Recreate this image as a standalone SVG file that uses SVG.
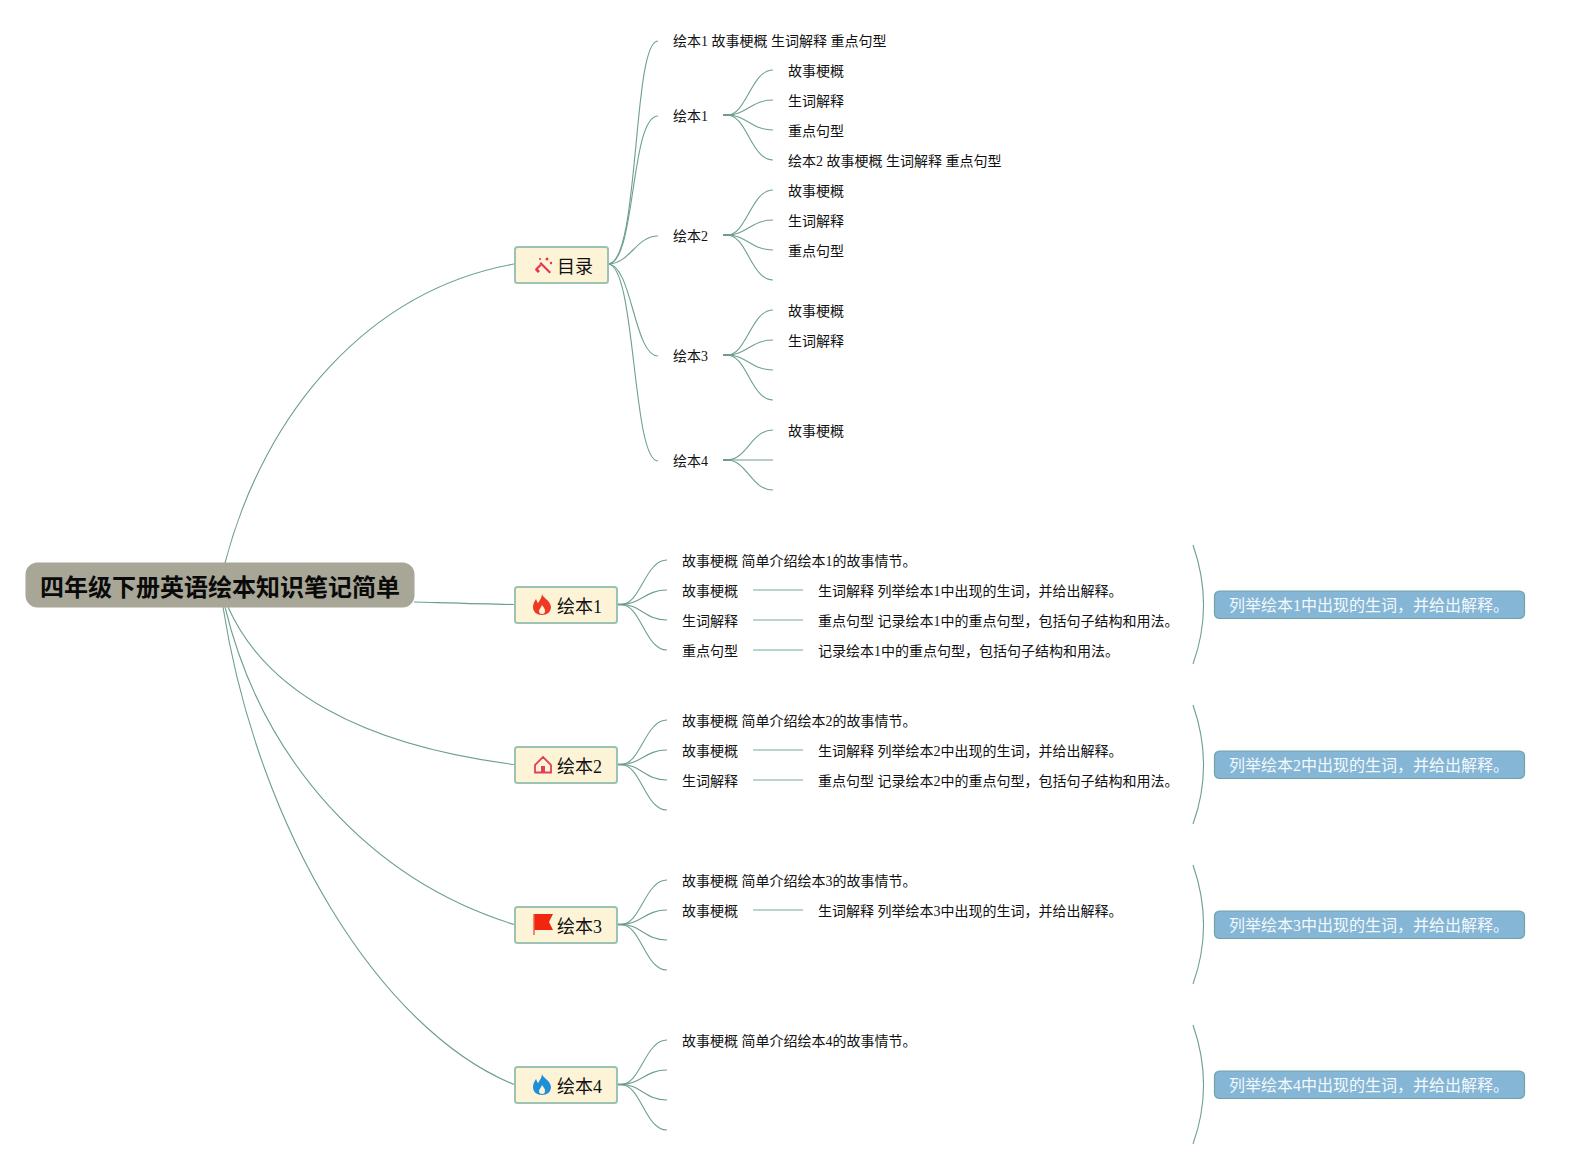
<svg xmlns="http://www.w3.org/2000/svg" width="1570" height="1170" viewBox="0 0 1570 1170">
<defs>
<style>
text{font-family:"Liberation Serif","Noto Sans CJK SC",serif;fill:#111}
.t{font-size:14px}
.n{font-size:18px}
.r{font-size:24px;font-weight:bold;fill:#0a0a0a}
.b{font-size:16px;fill:#f4f9fc}
.box{fill:#fdf4d8;stroke:#9cc2b2;stroke-width:2}
.blue{fill:#85b6d6;stroke:#6ea3a6;stroke-width:1.2}
.e{fill:none;stroke:#6d9f90;stroke-width:1.1}
.s{fill:none;stroke:#6d9f90;stroke-width:2}
.l{fill:none;stroke:#a3c6ba;stroke-width:1.4}
</style>
</defs>
<g id="connectors" transform="translate(3 0)">
<path class="e" d="M222 563C262 410 367 290 511 264"/>
<path class="e" d="M411 602C447 603 477 604 511 604.500"/>
<path class="e" d="M225 607C262 690 357 745 511 764.500"/>
<path class="e" d="M222 607C259 760 367 880 511 924.500"/>
<path class="e" d="M220 607C255 830 377 1030 511 1084.500"/>
<path class="e" d="M605 264C637 264 629 41 655 41"/>
<path class="e" d="M605 264C633 264 627 116 655 116"/>
<path class="e" d="M605 264C627 264 633 236 655 236"/>
<path class="e" d="M605 264C629 264 631 356 655 356"/>
<path class="e" d="M605 264C633 264 629 461 655 461"/>
<path class="s" d="M720 115H728"/>
<path class="e" d="M724 115C744 115 748 70 770 70"/>
<path class="e" d="M724 115C744 115 748 100 770 100"/>
<path class="e" d="M724 115C744 115 748 130 770 130"/>
<path class="e" d="M724 115C744 115 748 160 770 160"/>
<path class="s" d="M720 235H728"/>
<path class="e" d="M724 235C744 235 748 190 770 190"/>
<path class="e" d="M724 235C744 235 748 220 770 220"/>
<path class="e" d="M724 235C744 235 748 250 770 250"/>
<path class="e" d="M724 235C744 235 748 280 770 280"/>
<path class="s" d="M720 355H728"/>
<path class="e" d="M724 355C744 355 748 310 770 310"/>
<path class="e" d="M724 355C744 355 748 340 770 340"/>
<path class="e" d="M724 355C744 355 748 370 770 370"/>
<path class="e" d="M724 355C744 355 748 400 770 400"/>
<path class="s" d="M720 460H728"/>
<path class="e" d="M724 460C744 460 748 430 770 430"/>
<path class="e" d="M724 460H770"/>
<path class="e" d="M724 460C744 460 748 490 770 490"/>
<path class="s" d="M615 604.500H623"/>
<path class="e" d="M618 604.500C638 604.500 642 560 664 560"/>
<path class="e" d="M618 604.500C638 604.500 642 590 664 590"/>
<path class="e" d="M618 604.500C638 604.500 642 620 664 620"/>
<path class="e" d="M618 604.500C638 604.500 642 650 664 650"/>
<path class="s" d="M615 764.500H623"/>
<path class="e" d="M618 764.500C638 764.500 642 720 664 720"/>
<path class="e" d="M618 764.500C638 764.500 642 750 664 750"/>
<path class="e" d="M618 764.500C638 764.500 642 780 664 780"/>
<path class="e" d="M618 764.500C638 764.500 642 810 664 810"/>
<path class="s" d="M615 924.500H623"/>
<path class="e" d="M618 924.500C638 924.500 642 880 664 880"/>
<path class="e" d="M618 924.500C638 924.500 642 910 664 910"/>
<path class="e" d="M618 924.500C638 924.500 642 940 664 940"/>
<path class="e" d="M618 924.500C638 924.500 642 970 664 970"/>
<path class="s" d="M615 1084.500H623"/>
<path class="e" d="M618 1084.500C638 1084.500 642 1040 664 1040"/>
<path class="e" d="M618 1084.500C638 1084.500 642 1070 664 1070"/>
<path class="e" d="M618 1084.500C638 1084.500 642 1100 664 1100"/>
<path class="e" d="M618 1084.500C638 1084.500 642 1130 664 1130"/>
<path class="l" d="M750 590H800M750 620H800M750 650H800M750 750H800M750 780H800M750 910H800"/>
<path class="e" d="M1190 545C1204 585 1204 625 1190 664"/>
<path class="e" d="M1190 705C1204 745 1204 785 1190 824"/>
<path class="e" d="M1190 865C1204 905 1204 945 1190 984"/>
<path class="e" d="M1190 1025C1204 1065 1204 1105 1190 1144"/>
</g>
<g id="root"><rect x="25.500" y="562.500" width="389" height="45" rx="12" fill="#a8a696"/><text class="r" x="40" y="596">四年级下册英语绘本知识笔记简单</text></g>
<g id="node-toc"><rect class="box" x="515" y="247" width="93" height="36" rx="2.500"/>
<g fill="#e8324f"><path d="M535 270l2-2 3 3-2 2zM541 262l10 10-1.500 1.500-10-10z"/><circle cx="547" cy="259" r="1.500"/><circle cx="551" cy="263" r="1.200"/><circle cx="540" cy="259" r="1"/><path d="M535 269l5-5 1.500 1.500-5 5z"/></g>
<text class="n" x="557" y="273">目录</text></g>
<g id="node-1"><rect class="box" x="515" y="587" width="102" height="36" rx="2.500"/>
<path fill="#ee3a22" d="M542 594c1 4 8 6 9 13 0 5-4 8-9 8s-9-3-9-8c0-4 2-6 3-8 1 2 1 3 2 4 2-3 4-6 4-9z"/><path fill="#fdf4d8" d="M542 605c1 2 3 3 3 6 0 2-1 3-3 3s-3-1-3-3c0-2 2-3 3-6z"/>
<text class="n" x="557" y="613">绘本1</text></g>
<g id="node-2"><rect class="box" x="515" y="747" width="102" height="36" rx="2.500"/>
<path fill="none" stroke="#e2405a" stroke-width="1.800" d="M535 765l8-8 8 8v7.500h-16z"/><rect x="541" y="766" width="4" height="7" fill="#e2405a"/>
<text class="n" x="557" y="773">绘本2</text></g>
<g id="node-3"><rect class="box" x="515" y="907" width="102" height="36" rx="2.500"/>
<path fill="#f0260e" d="M534 914h19l-4 8 4 8h-19z"/><path stroke="#e8634f" stroke-width="1.500" d="M534 914v21"/>
<text class="n" x="557" y="933">绘本3</text></g>
<g id="node-4"><rect class="box" x="515" y="1067" width="102" height="36" rx="2.500"/>
<path fill="#1e90d8" d="M542 1074c1 4 8 6 9 13 0 5-4 8-9 8s-9-3-9-8c0-4 2-6 3-8 1 2 1 3 2 4 2-3 4-6 4-9z"/><path fill="#fdf4d8" d="M542 1085c1 2 3 3 3 6 0 2-1 3-3 3s-3-1-3-3c0-2 2-3 3-6z"/>
<text class="n" x="557" y="1093">绘本4</text></g>
<g id="toc-items">
<text class="t" x="673" y="46">绘本1 故事梗概 生词解释 重点句型</text>
<text class="t" x="673" y="121">绘本1</text>
<text class="t" x="788" y="76">故事梗概</text>
<text class="t" x="788" y="106">生词解释</text>
<text class="t" x="788" y="136">重点句型</text>
<text class="t" x="788" y="166">绘本2 故事梗概 生词解释 重点句型</text>
<text class="t" x="673" y="241">绘本2</text>
<text class="t" x="788" y="196">故事梗概</text>
<text class="t" x="788" y="226">生词解释</text>
<text class="t" x="788" y="256">重点句型</text>
<text class="t" x="673" y="361">绘本3</text>
<text class="t" x="788" y="316">故事梗概</text>
<text class="t" x="788" y="346">生词解释</text>
<text class="t" x="673" y="466">绘本4</text>
<text class="t" x="788" y="436">故事梗概</text>
</g>
<g id="book-1">
<text class="t" x="682" y="566">故事梗概 简单介绍绘本1的故事情节。</text>
<text class="t" x="682" y="596">故事梗概</text>
<text class="t" x="682" y="626">生词解释</text>
<text class="t" x="682" y="656">重点句型</text>
<text class="t" x="818" y="596">生词解释 列举绘本1中出现的生词，并给出解释。</text>
<text class="t" x="818" y="626">重点句型 记录绘本1中的重点句型，包括句子结构和用法。</text>
<text class="t" x="818" y="656">记录绘本1中的重点句型，包括句子结构和用法。</text>
<rect class="blue" x="1214.500" y="591" width="310" height="27.500" rx="5"/><text class="b" x="1229" y="610.500">列举绘本1中出现的生词，并给出解释。</text>
</g>
<g id="book-2">
<text class="t" x="682" y="726">故事梗概 简单介绍绘本2的故事情节。</text>
<text class="t" x="682" y="756">故事梗概</text>
<text class="t" x="682" y="786">生词解释</text>
<text class="t" x="818" y="756">生词解释 列举绘本2中出现的生词，并给出解释。</text>
<text class="t" x="818" y="786">重点句型 记录绘本2中的重点句型，包括句子结构和用法。</text>
<rect class="blue" x="1214.500" y="751" width="310" height="27.500" rx="5"/><text class="b" x="1229" y="770.500">列举绘本2中出现的生词，并给出解释。</text>
</g>
<g id="book-3">
<text class="t" x="682" y="886">故事梗概 简单介绍绘本3的故事情节。</text>
<text class="t" x="682" y="916">故事梗概</text>
<text class="t" x="818" y="916">生词解释 列举绘本3中出现的生词，并给出解释。</text>
<rect class="blue" x="1214.500" y="911" width="310" height="27.500" rx="5"/><text class="b" x="1229" y="930.500">列举绘本3中出现的生词，并给出解释。</text>
</g>
<g id="book-4">
<text class="t" x="682" y="1046">故事梗概 简单介绍绘本4的故事情节。</text>
<rect class="blue" x="1214.500" y="1071" width="310" height="27.500" rx="5"/><text class="b" x="1229" y="1090.500">列举绘本4中出现的生词，并给出解释。</text>
</g>
</svg>
